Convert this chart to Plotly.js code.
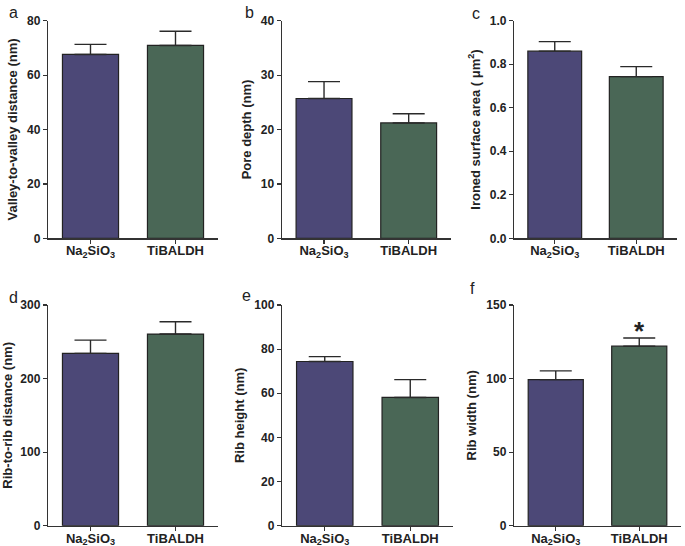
<!DOCTYPE html>
<html>
<head>
<meta charset="utf-8">
<script src="https://cdn.plot.ly/plotly-3.0.1.min.js"></script>
<style>html,body{margin:0;padding:0;background:#fff;}#chart{width:685px;height:546px;}</style>
</head>
<body>
<div id="chart"></div>
<script>
// Data
const categories = ["Na<sub>2</sub>SiO<sub>3</sub>", "TiBALDH"];
const panelLetters = ["a", "b", "c", "d", "e", "f"];
const yTitles = [
  "Valley-to-valley distance (nm)",
  "Pore depth (nm)",
  "Ironed surface area ( μm<sup>2</sup>)",
  "Rib-to-rib distance (nm)",
  "Rib height (nm)",
  "Rib width (nm)"
];
const valleyMean = [67.6, 70.9];
const valleyErr = [3.7, 5.2];
const poreMean = [25.7, 21.2];
const poreErr = [3.1, 1.7];
const ironedMean = [0.860, 0.743];
const ironedErr = [0.044, 0.046];
const ribDistMean = [234.2, 260.5];
const ribDistErr = [18.1, 16.7];
const ribHeightMean = [74.4, 58.1];
const ribHeightErr = [2.2, 8.1];
const ribWidthMean = [99.3, 122.0];
const ribWidthErr = [5.9, 5.6];
const yMax = [80, 40, 1.0, 300, 100, 150];
const yDtick = [20, 10, 0.2, 100, 20, 50];
const significance = ["", "", "", "", "", "*"];

const means = [valleyMean, poreMean, ironedMean, ribDistMean, ribHeightMean, ribWidthMean];
const errs = [valleyErr, poreErr, ironedErr, ribDistErr, ribHeightErr, ribWidthErr];

const barColors = ["#4c4877", "#4a6756"];
const W = 685, H = 546;
// pixel boxes for each panel [left, right, top, bottom]
const boxes = [
  [48, 218, 20.7, 238.3],
  [281.7, 451, 20.7, 238.3],
  [514, 677, 20.7, 238.3],
  [48, 218, 305, 525.7],
  [282, 453, 305, 525.7],
  [514, 681, 305, 525.7]
];
// panel letter positions (px)
const letterPos = [[7, 12], [243, 12], [470, 13], [7, 297], [240, 295], [468, 288]];

const traces = [];
const layout = {
  width: W, height: H,
  margin: {l: 0, r: 0, t: 0, b: 0},
  paper_bgcolor: "#fff", plot_bgcolor: "#fff",
  showlegend: false,
  font: {family: "Liberation Sans, Arial, sans-serif", color: "#222"},
  annotations: []
};

for (let i = 0; i < 6; i++) {
  const ax = i === 0 ? "" : String(i + 1);
  traces.push({
    type: "bar",
    x: categories,
    y: means[i],
    xaxis: "x" + ax, yaxis: "y" + ax,
    width: 0.66,
    marker: {color: barColors, line: {color: "#222", width: 1.2}},
    error_y: {type: "data", symmetric: false, array: errs[i], arrayminus: [0, 0],
              color: "#2a2a2a", thickness: 1.4, width: 16},
    hoverinfo: "none"
  });
  const b = boxes[i];
  layout["xaxis" + ax] = {
    domain: [b[0] / W, b[1] / W],
    anchor: "y" + ax,
    range: [-0.5, 1.5],
    showline: true, linecolor: "#333", linewidth: 1.2,
    ticks: "outside", ticklen: 4, tickcolor: "#333", tickwidth: 1.2,
    ticklabelstandoff: -4,
    showgrid: false, zeroline: false,
    tickfont: {size: 13, family: "Liberation Sans, Arial, sans-serif", color: "#222", weight: "bold"},
    fixedrange: true
  };
  layout["yaxis" + ax] = {
    domain: [1 - b[3] / H, 1 - b[2] / H],
    anchor: "x" + ax,
    range: [0, yMax[i]],
    dtick: yDtick[i], tick0: 0,
    tickformat: i === 2 ? ".1f" : "d",
    showline: true, linecolor: "#333", linewidth: 1.2,
    ticks: "outside", ticklen: 4, tickcolor: "#333", tickwidth: 1.2,
    showgrid: false, zeroline: false,
    tickfont: {size: 12, family: "Liberation Sans, Arial, sans-serif", color: "#222", weight: "bold"},
    title: {text: yTitles[i], font: {size: 13, color: "#222", weight: "bold"}, standoff: 6},
    fixedrange: true
  };
  layout.annotations.push({
    text: panelLetters[i], xref: "paper", yref: "paper", showarrow: false,
    x: letterPos[i][0] / W, y: 1 - letterPos[i][1] / H, xanchor: "left", yanchor: "middle",
    font: {size: 16, color: "#222", family: "Liberation Sans, Arial, sans-serif"}
  });
  for (let k = 0; k < 2; k++) {
    const s = i === 5 && k === 1 ? significance[i] : "";
    if (s) {
      layout.annotations.push({
        text: "<b>" + s + "</b>", xref: "x" + ax, yref: "y" + ax, showarrow: false,
        x: k, y: means[i][k] + errs[i][k], yanchor: "bottom", yshift: -10,
        font: {size: 26, color: "#222"}
      });
    }
  }
}

Plotly.newPlot("chart", traces, layout, {displayModeBar: false, staticPlot: true});
</script>
</body>
</html>
